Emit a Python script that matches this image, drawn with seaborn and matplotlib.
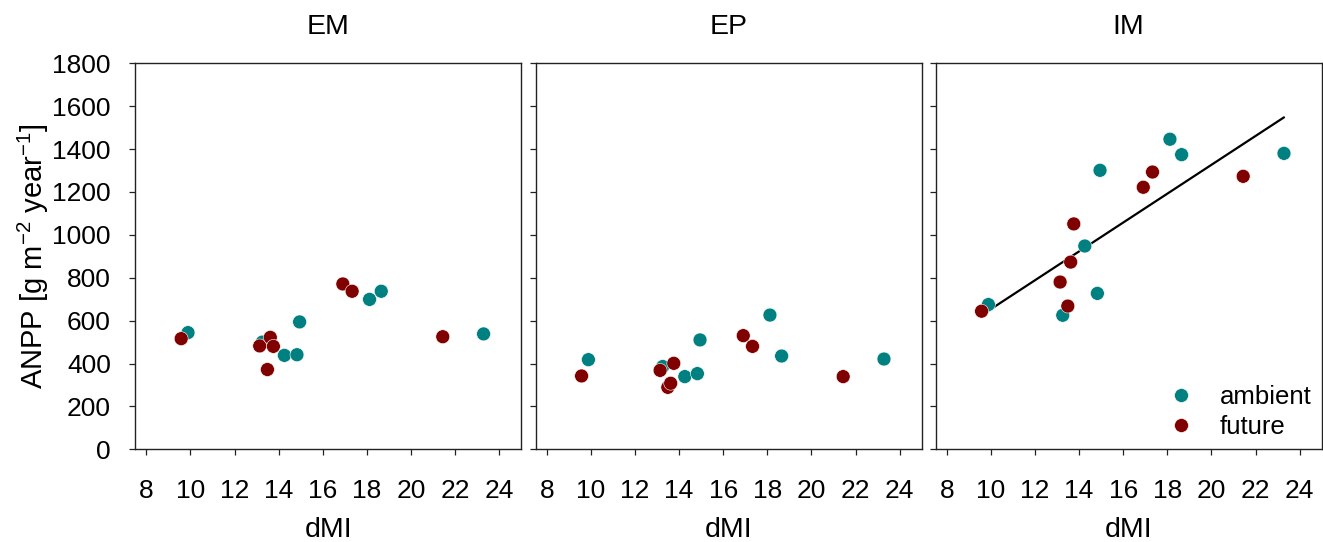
import numpy as np
import pandas as pd
import matplotlib
matplotlib.use("Agg")
import matplotlib.pyplot as plt
import seaborn as sns

# ---- data ----
panels = ["EM", "EP", "IM"]
dmi_ambient = [9.89, 13.26, 14.26, 14.83, 14.95, 18.12, 18.65, 23.29]
dmi_future = [9.58, 13.14, 13.49, 13.62, 13.76, 16.91, 17.33, 21.44]

em_ambient = [544, 500, 438, 441, 594, 699, 737, 538]
em_future = [516, 482, 372, 522, 480, 771, 737, 525]
ep_ambient = [418, 386, 339, 353, 510, 626, 435, 421]
ep_future = [342, 368, 289, 308, 401, 530, 480, 339]
im_ambient = [675, 625, 948, 727, 1301, 1446, 1374, 1380]
im_future = [644, 780, 668, 873, 1051, 1222, 1293, 1273]

y_ticks = [0, 200, 400, 600, 800, 1000, 1200, 1400, 1600, 1800]
x_ticks = [8, 10, 12, 14, 16, 18, 20, 22, 24]

values = {
    "EM": (em_ambient, em_future),
    "EP": (ep_ambient, ep_future),
    "IM": (im_ambient, im_future),
}
rows = []
for p in panels:
    amb, fut = values[p]
    for x, y in zip(dmi_ambient, amb):
        rows.append({"panel": p, "treatment": "ambient", "dMI": x, "ANPP": y})
    for x, y in zip(dmi_future, fut):
        rows.append({"panel": p, "treatment": "future", "dMI": x, "ANPP": y})
df = pd.DataFrame(rows)

# ---- style ----
sns.set_style("ticks")
plt.rcParams["font.family"] = ["Liberation Sans", "DejaVu Sans"]
plt.rcParams["mathtext.fontset"] = "custom"
plt.rcParams["mathtext.rm"] = "Liberation Sans"
plt.rcParams["mathtext.it"] = "Liberation Sans"
plt.rcParams["mathtext.default"] = "regular"
plt.rcParams["text.color"] = "black"
plt.rcParams["axes.labelcolor"] = "black"
plt.rcParams["xtick.color"] = "black"
plt.rcParams["ytick.color"] = "black"

palette = {"ambient": "#008080", "future": "#800000"}

W, H = 1323, 542
fig = plt.figure(figsize=(W / 100, H / 100), dpi=100)

lefts = [135.3, 535.7, 935.7]
aw = 386.0
bottom_px = 449.3
top_px = 63.3

axes = []
for i, p in enumerate(panels):
    ax = fig.add_axes([lefts[i] / W, (H - bottom_px) / H, aw / W, (bottom_px - top_px) / H])
    sub = df[df["panel"] == p]
    sns.scatterplot(data=sub, x="dMI", y="ANPP", hue="treatment", palette=palette,
                    hue_order=["ambient", "future"], s=100, edgecolor="white",
                    linewidth=0.4, ax=ax, legend=(p == "IM"), zorder=3)
    if p == "IM":
        sns.regplot(data=sub, x="dMI", y="ANPP", scatter=False, ci=None, truncate=True,
                    color="black", line_kws={"linewidth": 1.6}, ax=ax)
    ax.set_xlim(7.5, 25)
    ax.set_ylim(0, 1800)
    ax.set_xticks(x_ticks)
    ax.set_yticks(y_ticks)
    for s in ax.spines.values():
        s.set_visible(True)
        s.set_linewidth(1.0)
        s.set_color("#222222")
    ax.tick_params(axis="both", direction="out", length=4.5, width=0.9, color="#222222",
                   labelsize=19, labelcolor="black")
    ax.tick_params(axis="x", pad=17)
    ax.tick_params(axis="y", pad=13)
    ax.set_title(p, fontsize=20.5, pad=21, color="black")
    ax.set_xlabel("dMI", fontsize=20.5, labelpad=10)
    if i == 0:
        ax.set_ylabel(r"ANPP [g m$^{-2}$ year$^{-1}$]", fontsize=21, labelpad=1)
    else:
        ax.set_ylabel("")
        ax.set_yticklabels([])
    axes.append(ax)

leg = axes[2].get_legend()
if leg is not None:
    leg.remove()
handles, labels = axes[2].get_legend_handles_labels()
axes[2].legend(handles[:2], labels[:2], loc="lower right", frameon=False, fontsize=18.5,
               handletextpad=0.5, labelspacing=0.25, borderaxespad=0.0,
               bbox_to_anchor=(1.0, 0.0))

fig.savefig("out.png", dpi=100)
